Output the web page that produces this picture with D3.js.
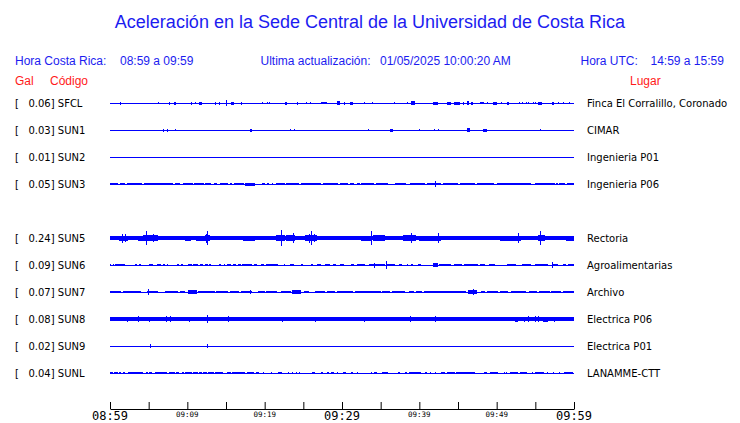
<!DOCTYPE html>
<html><head><meta charset="utf-8">
<script src="https://cdn.jsdelivr.net/npm/d3@7/dist/d3.min.js"></script>
<style>body{margin:0;background:#fff}svg{display:block}</style>
</head><body><svg id="c" width="740" height="423"></svg>
<script>
// ---------- DATA ----------
const slots  = ["SFCL","SUN1","SUN2","SUN3","SUN4","SUN5","SUN6","SUN7","SUN8","SUN9","SUNL"];
const codes  = ["SFCL","SUN1","SUN2","SUN3","SUN5","SUN6","SUN7","SUN8","SUN9","SUNL"];
const peakGal = [0.06,0.03,0.01,0.05,0.24,0.09,0.07,0.08,0.02,0.04];
const places = ["Finca El Corralillo, Coronado","CIMAR","Ingenieria P01","Ingenieria P06","Rectoria",
                "Agroalimentarias","Archivo","Electrica P06","Electrica P01","LANAMME-CTT"];
// continuous noise half-amplitude (px-units)
const baseAmp = [0.5,0.5,0.5,0.5,1.7,0.5,0.5,1.7,0.5,0.5];
// bursts: [start minute, end minute, half amplitude], minutes after 08:59
const sfclBursts = [[1.3,1.4,1.5],[6.2,6.25,0.8],[7.65,7.75,1.5],[8.3,8.5,1.5],[10.5,10.6,1.5],[11.0,11.05,1],[11.45,11.85,1.5],[13.6,13.65,1.5],[14.1,14.15,1.5],[15.05,15.15,2.7],[15.7,16.0,1.5],[16.9,17.0,1.5],[19.6,19.65,1.3],[20.3,20.35,1],[20.6,20.65,1],[22.6,22.9,1.5],[24.2,24.3,1.5],[25.3,25.35,1.3],[25.8,25.85,1.3],[27.3,28.0,1.2],[29.3,29.8,2],[30.2,30.4,1.5],[31.0,31.4,1.5],[32.8,32.85,1],[33.9,33.95,1.3],[36.7,36.75,1.3],[38.4,38.45,1.3],[38.9,39.4,2],[41.8,42.4,1.5],[43.6,44.1,1.5],[44.5,45.2,1.5],[45.7,45.75,1.5],[46.2,46.4,2],[46.7,47.0,1.5],[47.9,48.4,1.3],[48.8,48.85,1],[49.5,50.1,1.5],[50.6,50.65,1],[51.4,51.6,1.5],[52.9,52.95,1],[53.3,53.35,1.3],[53.8,53.85,1.3],[54.1,54.15,1.3],[54.7,54.75,1],[54.9,54.95,1.3],[55.3,55.9,1.5],[57.1,57.4,1.5],[57.9,57.95,1.3],[58.6,58.65,1],[59.4,59.45,1]];
const sun1Bursts = [[6.85,7.0,1.5],[7.4,7.45,1.5],[8.36,8.4,1],[18.1,18.4,1.5],[23.3,23.35,1.3],[23.8,23.85,0.8],[33.3,33.35,1.3],[36.2,36.6,1.5],[39.9,39.95,0.8],[41.9,41.95,1.3],[42.4,42.45,1.3],[46.2,46.6,1.8],[48.2,48.7,1.5],[55.6,55.65,0.8]];
const sun2Bursts = [];
const sun3Bursts = [[0,1.0,1],[1.3,1.9,1.3],[2.2,2.8,1.3],[2.9,4.2,1.3],[4.4,8.2,1.3],[8.4,9.0,1.3],[9.4,10.7,1.3],[10.9,12.2,1.3],[12.3,13.1,1.3],[13.4,13.9,1.3],[14.2,15.3,1.3],[15.5,15.8,1.3],[16.0,16.5,1.3],[16.6,17.3,1.3],[17.4,18.7,1.5],[19.7,20.0,1.3],[20.3,20.5,1.3],[20.9,21.1,1.3],[21.5,22.6,1.3],[22.8,24.4,1.3],[24.7,27.3,1.3],[27.5,29.5,1.3],[29.7,30.8,1.3],[31.0,31.6,1.3],[31.9,32.3,1.3],[32.5,34.2,1.3],[34.4,35.9,1.3],[36.8,37.7,1.3],[37.8,38.3,1.3],[38.8,40.7,1.3],[41.0,42.8,1.3],[42.05,42.15,3],[43.1,45.0,1.3],[45.2,47.2,1.3],[47.4,49.7,1.3],[50.1,54.5,1.3],[54.9,57.5,1.3],[57.7,57.9,1.3],[58.1,58.9,1.3],[59.1,60,1.3]];
const sun5Bursts = [[1.12,2.33,2.5],[1.5,1.6,4.5],[1.9,2.0,4],[2.33,4.27,2],[3.62,4.27,2.5],[4.27,6.2,2.7],[4.6,4.7,7],[5.6,5.7,3.7],[7.28,8.79,2],[9.66,10.5,2.5],[11.16,12.24,2.5],[12.24,12.89,3],[12.4,12.45,4.5],[12.55,12.65,6.7],[13.1,13.45,2],[15.0,15.8,2],[16.3,17.0,2],[17.2,18.7,2.5],[19.1,21.1,2],[21.5,22.6,2.7],[22.1,22.2,8],[22.8,23.9,2.7],[23.6,23.7,4.7],[25.2,26.8,3],[25.7,25.8,4.5],[26.0,26.1,7],[26.4,26.5,4.3],[26.9,29.1,2],[29.5,29.9,2],[30.3,31.0,2],[32.5,33.8,2.5],[33.75,33.85,7],[34.0,35.6,3],[37.2,37.7,2],[37.9,39.6,2.7],[38.9,39.0,4.7],[40.0,42.8,2.5],[42.4,42.5,4.7],[44.8,47.2,2],[47.6,49.1,2],[50.4,53.2,2.5],[52.7,52.8,5.3],[53.6,55.1,2],[55.3,56.2,3],[55.6,55.7,7],[56.2,57.7,2],[59.0,60,2.5]];
const sun6Bursts = [[0,0.17,1.3],[0.34,0.52,1.3],[0.69,1.98,1.3],[3.19,3.53,1.3],[3.71,3.97,1.3],[5.0,5.52,1.3],[6.03,6.55,1.3],[6.81,7.07,1.3],[7.33,7.5,1.3],[8.62,8.88,1.3],[9.14,9.4,1.3],[10.09,10.6,1.3],[10.78,11.38,1.3],[11.64,12.07,1.3],[12.24,12.67,1.3],[12.76,13.1,1.3],[14.05,14.4,1.3],[14.74,14.91,1.3],[15.17,15.6,1.3],[15.95,16.29,1.3],[16.55,16.9,1.3],[17.07,18.36,1.3],[18.62,18.97,1.3],[19.48,19.91,1.3],[20.17,21.72,1.3],[22.5,22.67,1.3],[23.23,23.79,1.3],[24.74,25.0,1.3],[25.95,26.29,1.3],[26.81,27.33,1.3],[27.76,28.4,1.3],[28.79,29.22,1.3],[29.74,30.26,1.3],[31.12,31.55,1.3],[31.9,32.93,1.3],[33.45,35.52,1.3],[34.1,34.18,2.5],[35.69,36.9,1.3],[35.74,35.82,4],[37.41,37.76,1.3],[38.36,38.53,1.3],[38.88,39.22,1.3],[39.83,40.26,1.3],[41.81,42.41,2.3],[42.5,44.14,1.3],[44.48,45.52,1.3],[45.78,47.59,1.3],[47.8,48.45,1.3],[49.05,49.83,1.3],[51.29,52.5,1.3],[53.28,54.48,1.3],[54.91,56.64,1.3],[57.12,57.2,3.3],[57.28,57.93,1.3],[58.58,59.0,1.3],[59.22,60,1.3]];
const sun7Bursts = [[0,0.34,1.3],[0.43,1.47,1.3],[1.64,4.05,1.3],[4.74,6.21,1.3],[4.87,4.95,2.7],[7.07,8.79,1.3],[9.05,9.74,1.3],[10.09,11.21,1.7],[11.38,13.53,1.3],[13.71,15.26,1.3],[15.52,16.64,1.3],[16.9,18.36,1.3],[18.15,18.23,2.3],[19.14,20.0,1.3],[20.17,21.64,1.3],[22.16,23.45,1.3],[23.58,24.66,1.7],[25.09,25.78,1.3],[26.55,27.76,1.3],[28.02,29.05,1.3],[29.31,31.42,1.3],[31.72,35.09,1.3],[35.17,36.21,1.3],[36.47,38.1,1.3],[38.62,39.31,1.3],[39.61,40.34,1.3],[40.6,46.08,1.3],[46.29,47.5,1.7],[46.9,47.0,2.7],[48.02,48.45,1.3],[48.71,50.17,1.3],[50.39,51.47,1.3],[51.9,53.84,1.3],[54.14,55.26,1.3],[55.43,56.85,1.3],[57.07,58.36,1.3],[58.58,60,1.3]];
const sun8Bursts = [[2.2,2.28,2.5],[3.58,3.66,3],[5.0,5.08,2.5],[6.08,6.16,2.3],[7.24,7.32,2.7],[7.8,7.88,2.7],[10.26,10.34,2.5],[12.55,12.65,4.3],[15.31,15.39,3],[22.2,22.28,2.5],[26.51,26.59,2.5],[32.8,32.88,2.5],[38.84,38.92,3],[42.07,42.15,2.7],[52.33,52.76,2.5],[53.58,53.66,2.5],[54.1,54.18,2.7],[54.91,55.0,2.7],[55.35,55.43,2.7],[55.95,56.7,2.5],[57.46,57.54,2.5]];
const sun9Bursts = [[5.18,5.26,1.7],[12.55,12.63,1.7]];
const sunlBursts = [[0,0.34,1.3],[0.52,1.03,1.3],[1.21,1.47,1.3],[1.64,1.9,1.3],[2.33,4.27,1.3],[4.7,4.91,1.3],[5.09,5.43,1.3],[5.78,7.41,1.3],[7.59,8.36,1.3],[8.53,8.97,1.3],[9.31,9.57,1.3],[9.74,10.6,1.3],[10.78,11.38,1.3],[11.55,11.9,1.3],[12.07,12.5,1.3],[12.67,13.45,1.3],[13.62,14.57,1.3],[15.09,15.6,1.3],[15.78,17.41,1.3],[17.76,18.62,1.3],[18.92,19.22,1.3],[19.8,19.88,1.3],[20.82,20.9,1.3],[21.72,22.24,1.3],[23.06,23.14,1.3],[23.49,23.57,1.3],[24.1,24.18,1.3],[24.44,24.52,1.3],[26.12,26.55,1.3],[27.33,27.5,1.3],[28.02,28.28,1.3],[28.53,28.97,1.3],[29.36,29.44,1.3],[30.09,30.52,1.3],[31.21,31.47,1.3],[31.94,32.02,1.3],[33.75,33.83,1.3],[34.14,34.57,1.3],[35.17,35.95,1.3],[37.24,37.5,1.3],[38.1,38.36,1.3],[38.62,40.26,1.3],[40.78,41.03,1.3],[41.43,41.51,1.3],[42.03,42.11,1.3],[42.84,43.36,1.3],[43.53,44.57,1.3],[44.78,47.16,1.3],[48.36,48.79,1.3],[49.14,50.17,1.3],[50.91,50.99,1.3],[51.25,51.33,1.3],[51.72,52.76,1.3],[53.02,53.97,1.3],[54.53,54.61,1.3],[54.91,56.12,1.3],[56.51,56.59,1.3],[57.29,57.37,1.3],[58.11,58.19,1.3],[58.71,59.87,1.3]];
const bursts = [sfclBursts,sun1Bursts,sun2Bursts,sun3Bursts,sun5Bursts,sun6Bursts,sun7Bursts,sun8Bursts,sun9Bursts,sunlBursts];

const tickMinutes = [0,5,10,15,20,25,30,35,40,45,50,55,60];
const majorMinutes = [0,30,60];
const majorLabels = ["08:59","09:29","09:59"];
const minorMinutes = [10,20,40,50];
const minorLabels = ["09:09","09:19","09:39","09:49"];

// ---------- DRAW ----------
const svg = d3.select("#c");
const BLUE = "#0000ff", TXTBLUE = "#1c1cf0", RED = "#ff1a1a";
const sans = "'Liberation Sans', Arial, sans-serif";
const dv = "'DejaVu Sans', sans-serif";

const x = d3.scaleLinear().domain([0,60]).range([110,574]);
const rowY = d3.scalePoint().domain(slots).range([103,373]);
const amp = d3.scaleLinear().domain([0,10]).range([0,10]);

svg.append("text").attr("x",370).attr("y",28).attr("text-anchor","middle")
  .attr("font-family",sans).attr("font-size",18).attr("fill",TXTBLUE)
  .text("Aceleración en la Sede Central de la Universidad de Costa Rica");

const hdr = [[15,"Hora Costa Rica:"],[120,"08:59 a 09:59"],[260.5,"Ultima actualización:"],
             [380,"01/05/2025 10:00:20 AM"],[580.5,"Hora UTC:"],[650.5,"14:59 a 15:59"]];
svg.selectAll("text.hdr").data(hdr).join("text").attr("class","hdr")
  .attr("x",d=>d[0]).attr("y",65).attr("font-family",sans).attr("font-size",12)
  .attr("fill",TXTBLUE).text(d=>d[1]);
const red = [[15,"Gal"],[50,"Código"],[630,"Lugar"]];
svg.selectAll("text.red").data(red).join("text").attr("class","red")
  .attr("x",d=>d[0]).attr("y",85).attr("font-family",sans).attr("font-size",12)
  .attr("fill",RED).text(d=>d[1]);

const rows = codes.map((c,i)=>({code:c, gal:peakGal[i], place:places[i], base:baseAmp[i], bursts:bursts[i]}));

const g = svg.append("g").attr("shape-rendering","crispEdges");
rows.forEach(r=>{
  const cy = rowY(r.code);
  g.append("rect").attr("x",x(0)).attr("width",x(60)-x(0))
    .attr("y",cy-amp(r.base)).attr("height",2*amp(r.base)).attr("fill",BLUE);
  g.selectAll(null).data(r.bursts).join("rect")
    .attr("x",d=>x(d[0])).attr("width",d=>Math.max(1,x(d[1])-x(d[0])))
    .attr("y",d=>cy-amp(d[2])).attr("height",d=>2*amp(d[2])).attr("fill",BLUE);
  svg.append("text").attr("x",15).attr("y",cy+4).attr("font-family",dv).attr("font-size",10)
    .attr("fill","#000").style("white-space","pre")
    .text("[" + r.gal.toFixed(2).padStart(7," ") + "] " + r.code);
  svg.append("text").attr("x",587).attr("y",cy+4).attr("font-family",dv).attr("font-size",10)
    .attr("fill","#000").text(r.place);
});

const axis = d3.axisBottom(x).tickValues(tickMinutes).tickSize(-7).tickSizeOuter(0).tickFormat("");
const ax = svg.append("g").attr("transform","translate(0,409)").call(axis);
ax.select(".domain").attr("stroke","#000");
ax.selectAll(".tick line").attr("stroke","#000");

const mono = "'DejaVu Sans Mono', monospace";
svg.selectAll("text.maj").data(majorMinutes).join("text").attr("class","maj")
  .attr("x",d=>x(d)).attr("y",420).attr("text-anchor","middle")
  .attr("font-family",mono).attr("font-size",12).attr("fill","#000")
  .text((d,i)=>majorLabels[i]);
svg.selectAll("text.min").data(minorMinutes).join("text").attr("class","min")
  .attr("x",d=>x(d)).attr("y",417).attr("text-anchor","middle")
  .attr("font-family",mono).attr("font-size",7.5).attr("fill","#000")
  .text((d,i)=>minorLabels[i]);
</script></body></html>
